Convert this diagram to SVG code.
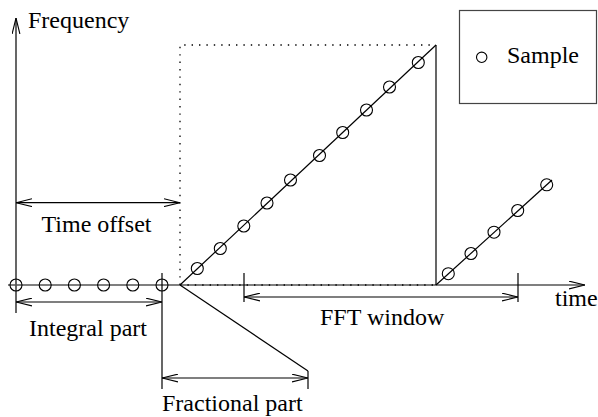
<svg xmlns="http://www.w3.org/2000/svg" width="598" height="417" viewBox="0 0 598 417">
<style>
.ln{stroke:#000;stroke-width:1.2;fill:none}
.dot{stroke:#000;stroke-width:1.3;fill:none;stroke-dasharray:1.4 6}
.smp{stroke:#000;stroke-width:1.1;fill:none}
.lbl{font-family:'Liberation Serif','Times New Roman',serif;font-size:24px;fill:#000}
.arr{stroke:#000;stroke-width:1.2;fill:none;marker-start:url(#ah);marker-end:url(#ah)}
</style>
<defs>
<marker id="ah" viewBox="0 0 16 9" refX="16" refY="4.5" markerWidth="16" markerHeight="9" markerUnits="userSpaceOnUse" orient="auto-start-reverse">
<path d="M0,0.6 L16,4.5 L0,8.4" fill="none" stroke="#000" stroke-width="1.1"/>
</marker>
<circle id="c" r="6" class="smp"/>
</defs>
<rect width="598" height="417" fill="#fff"/>

<g id="axes">
<line x1="16" y1="313" x2="16" y2="18" class="ln" marker-end="url(#ah)"/>
<line x1="8" y1="285" x2="585" y2="285" stroke="#555" stroke-width="1.4" fill="none" marker-end="url(#ah)"/>
<text class="lbl" x="28" y="28">Frequency</text>
<text class="lbl" x="555" y="306">time</text>
</g>

<g id="fft-frame">
<path d="M180,285 V45 H436" class="dot"/>
<line x1="180" y1="285" x2="436" y2="285" class="dot"/>
<line x1="436" y1="45" x2="436" y2="285" class="ln"/>
</g>

<g id="integral-samples">
<use href="#c" x="16" y="285"/>
<use href="#c" x="45.2" y="285"/>
<use href="#c" x="74.4" y="285"/>
<use href="#c" x="103.6" y="285"/>
<use href="#c" x="132.8" y="285"/>
<use href="#c" x="162" y="285"/>
</g>

<g id="ramp1">
<line x1="180" y1="285" x2="436" y2="45" class="ln"/>
<use href="#c" x="197.3" y="268.5"/>
<use href="#c" x="220.3" y="248.5"/>
<use href="#c" x="243.8" y="226"/>
<use href="#c" x="267" y="203"/>
<use href="#c" x="290.5" y="180"/>
<use href="#c" x="319.5" y="155.5"/>
<use href="#c" x="342.7" y="132.5"/>
<use href="#c" x="366.5" y="110"/>
<use href="#c" x="389.5" y="87"/>
<use href="#c" x="418.3" y="62.5"/>
</g>

<g id="ramp2">
<line x1="436" y1="285" x2="552" y2="180" class="ln"/>
<use href="#c" x="448.3" y="273.7"/>
<use href="#c" x="471" y="253.5"/>
<use href="#c" x="494" y="232.2"/>
<use href="#c" x="517.7" y="210.5"/>
<use href="#c" x="546.7" y="184.8"/>
</g>

<g id="legend">
<rect x="459.5" y="10.5" width="137" height="93" fill="none" stroke="#444" stroke-width="1.2"/>
<circle cx="481.7" cy="57.3" r="5.2" class="smp"/>
<text class="lbl" x="507" y="63">Sample</text>
</g>

<g id="labels">
<text class="lbl" x="41.5" y="232">Time offset</text>
<text class="lbl" x="29" y="336">Integral part</text>
<text class="lbl" x="162" y="411">Fractional part</text>
<text class="lbl" x="320" y="325">FFT window</text>
</g>

<g id="connectors">
<line x1="16" y1="202.7" x2="180" y2="202.7" class="arr"/>
<line x1="162" y1="273" x2="162" y2="389" class="ln"/>
<line x1="16" y1="302" x2="162" y2="302" class="arr"/>
<line x1="180" y1="285" x2="308" y2="371" class="ln"/>
<line x1="308" y1="371" x2="308" y2="389" class="ln"/>
<line x1="162" y1="378" x2="308" y2="378" class="arr"/>
<line x1="244" y1="273" x2="244" y2="302" class="ln"/>
<line x1="518" y1="273" x2="518" y2="302" class="ln"/>
<line x1="244" y1="297" x2="518" y2="297" class="arr"/>
</g>
</svg>
